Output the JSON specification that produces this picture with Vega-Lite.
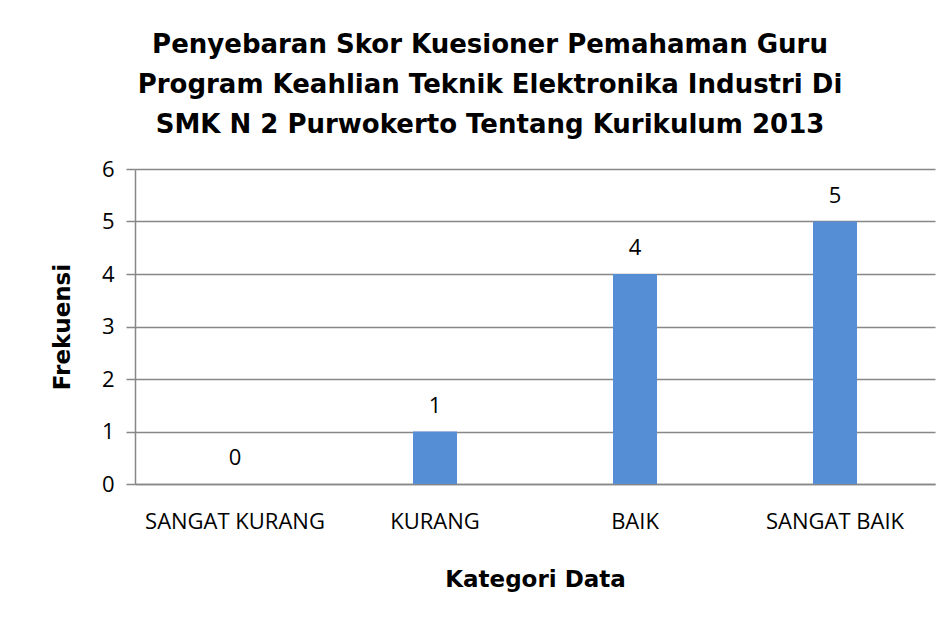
{
  "$schema": "https://vega.github.io/schema/vega-lite/v6.json",
  "autosize": "none",
  "width": 800,
  "height": 315,
  "padding": {"left": 135, "top": 169, "right": 15, "bottom": 135},
  "background": "white",
  "title": {
    "text": ["Penyebaran Skor Kuesioner Pemahaman Guru", "Program Keahlian Teknik Elektronika Industri Di", "SMK N 2 Purwokerto Tentang Kurikulum 2013"],
    "font": "DejaVu Sans",
    "fontSize": 26,
    "fontWeight": "bold",
    "lineHeight": 40,
    "color": "black",
    "anchor": "middle",
    "dx": -45,
    "offset": 20
  },
  "data": {
    "values": [
      {"kategori": "SANGAT KURANG", "frekuensi": 0},
      {"kategori": "KURANG", "frekuensi": 1},
      {"kategori": "BAIK", "frekuensi": 4},
      {"kategori": "SANGAT BAIK", "frekuensi": 5}
    ]
  },
  "encoding": {
    "x": {
      "field": "kategori",
      "type": "nominal",
      "sort": null,
      "scale": {"paddingInner": 0.78, "paddingOuter": 0.39},
      "axis": {
        "title": "Kategori Data",
        "titleFont": "DejaVu Sans",
        "titleFontSize": 23,
        "titleFontWeight": "bold",
        "titleColor": "black",
        "titlePadding": 36,
        "labelAngle": 0,
        "labelFont": "Open Sans",
        "labelFontSize": 22,
        "labelColor": "black",
        "labelPadding": 27,
        "ticks": false,
        "domainColor": "#878787",
        "domainWidth": 1.5
      }
    },
    "y": {
      "field": "frekuensi",
      "type": "quantitative",
      "scale": {"domain": [0, 6]},
      "axis": {
        "title": "Frekuensi",
        "titleFont": "DejaVu Sans",
        "titleFontSize": 23,
        "titleFontWeight": "bold",
        "titleColor": "black",
        "titlePadding": 27,
        "values": [0, 1, 2, 3, 4, 5, 6],
        "labelFont": "Open Sans",
        "labelFontSize": 22,
        "labelColor": "black",
        "labelPadding": 12,
        "tickSize": 9,
        "tickColor": "#878787",
        "tickWidth": 1.5,
        "domainColor": "#878787",
        "domainWidth": 1.5,
        "grid": true,
        "gridColor": "#878787",
        "gridWidth": 1.5
      }
    }
  },
  "layer": [
    {
      "mark": {"type": "bar", "color": "#558ED5"}
    },
    {
      "mark": {"type": "text", "baseline": "bottom", "dy": -14, "font": "Open Sans", "fontSize": 22, "color": "black"},
      "encoding": {"text": {"field": "frekuensi", "type": "quantitative"}}
    }
  ],
  "config": {"view": {"stroke": null}}
}
